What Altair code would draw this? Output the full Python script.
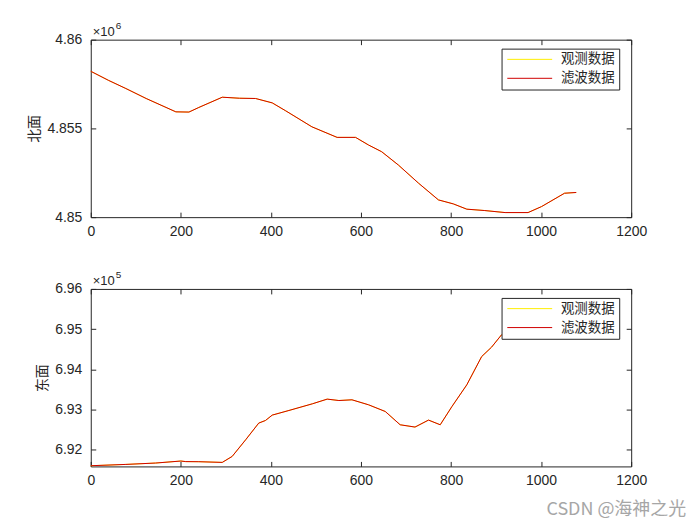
import altair as alt
import pandas as pd

# ---- data ----
north_x = [0, 40, 78, 123, 189, 218, 240, 292, 330, 366, 403, 433, 491, 547, 588, 617, 646, 683, 728, 772, 805, 835, 875, 920, 971, 1001, 1052, 1078]
north_y = [4858219, 4857700, 4857247, 4856685, 4855933, 4855920, 4856180, 4856758, 4856700, 4856685, 4856438, 4855989, 4855090, 4854494, 4854494, 4854062, 4853686, 4852938, 4851910, 4850972, 4850747, 4850449, 4850371, 4850258, 4850258, 4850596, 4851348, 4851390]

east_x = [0, 78, 144, 200, 211, 240, 292, 314, 344, 373, 388, 403, 440, 492, 525, 551, 580, 617, 654, 687, 720, 750, 776, 802, 835, 868, 890, 912, 960, 1010, 1078]
east_y = [691597, 691630, 691664, 691714, 691700, 691697, 691680, 691829, 692244, 692659, 692724, 692858, 692973, 693139, 693256, 693221, 693239, 693114, 692948, 692617, 692560, 692734, 692617, 693072, 693612, 694316, 694550, 694856, 695150, 695380, 695520]

series_names = ["观测数据", "滤波数据"]
series_colors = ["#ffee00", "#d00000"]
x_ticks = [0, 200, 400, 600, 800, 1000, 1200]
north_ticks = [4850000, 4855000, 4860000]
east_ticks = [692000, 693000, 694000, 695000, 696000]
north_domain = [4850000, 4860000]
east_domain = [691580, 696000]
watermark = ["CSDN @海神之光"]

W, H = 542, 178
AX = "#262626"
NUM_FONT = "Liberation Sans"
CJK = "Noto Sans CJK SC"


def panel(xs, ys, ticks, domain, div, title, expo_sup, extra=None):
    n = len(xs)
    df = pd.DataFrame({"x": xs + xs, "v": ys + ys,
                       "s": [series_names[0]] * n + [series_names[1]] * n})
    color = alt.Color("s:N",
                      scale=alt.Scale(domain=series_names, range=series_colors),
                      legend=alt.Legend(title=None, orient="none", legendX=412, legendY=9,
                                        symbolType="M-1,0H8", symbolSize=100,
                                        symbolStrokeWidth=1, labelFont=CJK,
                                        labelFontSize=13.5, labelColor=AX, labelOffset=42,
                                        fillColor="white", strokeColor=AX, padding=4,
                                        rowPadding=4, cornerRadius=0))
    xs_ = alt.Scale(domain=[0, 1200], nice=False, zero=False)
    ys_ = alt.Scale(domain=domain, nice=False, zero=False)
    xb = alt.Axis(orient="bottom", values=x_ticks, format="d", offset=-5, tickSize=5,
                  domain=False, grid=False, tickColor=AX, tickWidth=1, labelFont=NUM_FONT,
                  labelFontSize=14, labelColor=AX, labelPadding=7, labelFlush=False,
                  title=None)
    xt = alt.Axis(orient="top", values=x_ticks, offset=-5, tickSize=5, domain=False,
                  grid=False, tickColor=AX, tickWidth=1, labels=False, title=None)
    yl = alt.Axis(orient="left", values=ticks, offset=-5, tickSize=5, domain=False,
                  grid=False, tickColor=AX, tickWidth=1, labelFont=NUM_FONT, labelFontSize=14,
                  labelColor=AX, labelPadding=9,
                  labelExpr=f"format(datum.value/{div}, '.4~f')",
                  title=title, titleFont=CJK, titleFontSize=14, titleFontWeight="normal",
                  titleColor=AX, titlePadding=5)
    yr = alt.Axis(orient="right", values=ticks, offset=-5, tickSize=5, domain=False,
                  grid=False, tickColor=AX, tickWidth=1, labels=False, title=None)
    base = alt.Chart(df)
    obs = base.transform_filter(alt.datum.s == series_names[0]).mark_line(
        strokeWidth=1).encode(
        x=alt.X("x:Q", scale=xs_, axis=xt),
        y=alt.Y("v:Q", scale=ys_, axis=yr),
        color=color)
    filt = base.transform_filter(alt.datum.s == series_names[1]).mark_line(
        strokeWidth=1).encode(
        x=alt.X("x:Q", scale=xs_, axis=xb),
        y=alt.Y("v:Q", scale=ys_, axis=yl),
        color=color)
    e1 = alt.Chart(pd.DataFrame({"t": ["×10"]})).mark_text(
        align="left", baseline="alphabetic", font=NUM_FONT, fontSize=13, color=AX).encode(
        text="t:N", x=alt.value(2), y=alt.value(-4))
    e2 = alt.Chart(pd.DataFrame({"t": [expo_sup]})).mark_text(
        align="left", baseline="alphabetic", font=NUM_FONT, fontSize=10, color=AX).encode(
        text="t:N", x=alt.value(25), y=alt.value(-11))
    layers = [obs, filt, e1, e2]
    if extra is not None:
        layers.append(extra)
    return alt.layer(*layers).resolve_axis(x="independent", y="independent").properties(
        width=W, height=H)


wm = alt.Chart(pd.DataFrame({"t": watermark})).mark_text(
    align="left", baseline="alphabetic", font=CJK, fontSize=18, color="#a6a6a6").encode(
    text="t:N", x=alt.value(457), y=alt.value(227))

top = panel(north_x, north_y, north_ticks, north_domain, 1e6, "北面", "6")
bottom = panel(east_x, east_y, east_ticks, east_domain, 1e5, "东面", "5", extra=wm)

chart = alt.vconcat(top, bottom, spacing=30).resolve_scale(
    color="independent").resolve_legend(color="independent").properties(
    padding={"left": 19, "top": 11, "right": 5, "bottom": 5},
    background="white"
).configure_view(stroke=AX, strokeWidth=1)

chart.save("out.html", embed_options={"renderer": "svg", "actions": False})
